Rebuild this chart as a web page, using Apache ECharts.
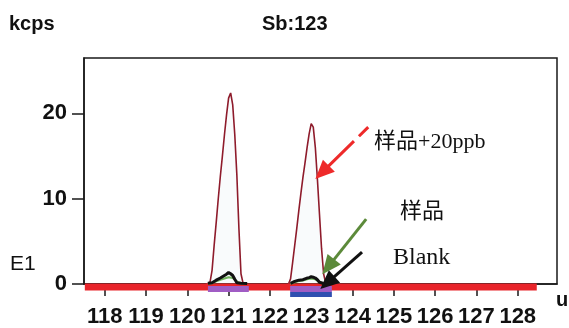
<!DOCTYPE html>
<html>
<head>
<meta charset="utf-8">
<script src="https://cdn.jsdelivr.net/npm/echarts@6/dist/echarts.min.js"></script>
<style>
  html, body { margin: 0; padding: 0; background: #fff; }
  #chart { width: 569px; height: 328px; }
</style>
</head>
<body>
<div id="chart"></div>
<script>
// Mass axis (u) and tick labels
const massTicks = [118, 119, 120, 121, 122, 123, 124, 125, 126, 127, 128];
const countTicks = [0, 10, 20];

// Spiked sample (样品+20ppb): mass points and intensity (kcps); null splits the two peaks
const spikedMass = [120.45, 120.5, 120.55, 120.6, 120.65, 120.7, 120.75, 120.8, 120.85, 120.9, 120.95,
  121.0, 121.05, 121.1, 121.15, 121.2, 121.25, 121.3, 121.35, 121.4, 121.9,
  122.45, 122.5, 122.55, 122.6, 122.65, 122.7, 122.75, 122.8, 122.85, 122.9, 122.95,
  123.0, 123.05, 123.1, 123.15, 123.2, 123.25, 123.3, 123.35, 123.4];
const spikedKcps = [0, 0.05, 0.2, 1.6, 4.5, 7.2, 10.0, 12.6, 15.0, 17.5, 19.8,
  21.8, 22.4, 21.0, 17.5, 12.8, 6.5, 1.2, 0.1, 0, null,
  0, 0.6, 2.5, 4.5, 6.5, 8.6, 10.6, 12.5, 14.2, 16.0, 17.6,
  18.8, 18.4, 16.0, 12.3, 8.2, 4.2, 1.2, 0.1, 0];

// Sample (样品)
const sampleMass = [120.5, 120.6, 120.7, 120.8, 120.9, 121.0, 121.1, 121.2, 121.3, 121.4, 121.9,
  122.5, 122.6, 122.7, 122.8, 122.9, 123.0, 123.1, 123.2, 123.3];
const sampleKcps = [0.02, 0.1, 0.3, 0.5, 0.65, 0.8, 0.7, 0.3, 0.05, 0.02, null,
  0.02, 0.2, 0.35, 0.4, 0.55, 0.65, 0.55, 0.2, 0.05];

// Blank
const blankMass = [120.5, 120.6, 120.7, 120.8, 120.85, 120.9, 120.95, 121.0, 121.05,
  121.1, 121.15, 121.2, 121.3, 121.45, 121.9, 122.5, 122.6, 122.7, 122.8, 122.9, 122.95,
  123.0, 123.05, 123.1, 123.15, 123.2, 123.3];
const blankKcps = [0.08, 0.15, 0.45, 0.7, 0.85, 1.0, 1.15, 1.35, 1.2,
  1.0, 0.55, 0.15, 0.08, 0.05, null, 0.08, 0.3, 0.45, 0.5, 0.7, 0.75,
  0.85, 0.8, 0.7, 0.5, 0.2, 0.06];

// Scan range and integration windows (u)
const scanRange = [117.52, 128.46];
const peakWindows = [[120.5, 121.49], [122.49, 123.5]];
const blankWindows = [[122.49, 123.5]];

// Annotation arrows: [fromMass, fromKcps, toMass, toKcps]
const arrowSpiked = [124.38, 18.4, 123.1, 12.3];
const arrowSample = [124.33, 7.6, 123.27, 1.15];
const arrowBlank = [124.23, 3.75, 123.22, -0.6];

const pairs = (xs, ys) => xs.map((x, i) => [x, ys[i]]);

// band kinds: 0 = scan range, 1 = peak window, 2 = blank window
const bandData = [[scanRange[0], scanRange[1], 0]]
  .concat(peakWindows.map(w => [w[0], w[1], 1]))
  .concat(blankWindows.map(w => [w[0], w[1], 2]));
const bandStyle = [
  { top: -0.5, h: 7, color: '#e8242a' },
  { top: 2, h: 6, color: '#a05cc4' },
  { top: 8, h: 5, color: '#2f4fb0' }
];

const chart = echarts.init(document.getElementById('chart'), null, { renderer: 'canvas' });

const tickFont = '"Liberation Sans", Arial, sans-serif';

const textGraphics = [
  { type: 'text', left: 9, top: 14, style: { text: 'kcps', fill: '#111', font: 'bold 20px "Liberation Sans", Arial, sans-serif' } },
  { type: 'text', left: 262, top: 14, style: { text: 'Sb:123', fill: '#111', font: 'bold 20px "Liberation Sans", Arial, sans-serif' } },
  { type: 'text', left: 10, top: 254, style: { text: 'E1', fill: '#111', font: '21px "Liberation Sans", Arial, sans-serif' } },
  { type: 'text', left: 556, top: 290, style: { text: 'u', fill: '#111', font: 'bold 20px "Liberation Sans", Arial, sans-serif' } },
  { type: 'text', left: 374, top: 131, z: 20, style: { text: '样品+20ppb', fill: '#111', font: '22px "Liberation Serif", "Noto Sans CJK SC", serif' } },
  { type: 'text', left: 400, top: 201, z: 20, style: { text: '样品', fill: '#111', font: '22px "Liberation Serif", "Noto Sans CJK SC", serif' } },
  { type: 'text', left: 393, top: 246, z: 20, style: { text: 'Blank', fill: '#111', font: '24px "Liberation Serif", "Noto Sans CJK SC", serif' } }
];

chart.setOption({
  animation: false,
  backgroundColor: '#ffffff',
  grid: {
    left: 84, right: 12, top: 58, bottom: 43,
    show: true, borderColor: '#1a1a1a', borderWidth: 1.5, backgroundColor: 'transparent'
  },
  xAxis: {
    type: 'value', min: 117.5, max: 128.95,
    axisLine: { show: true, lineStyle: { color: '#1a1a1a', width: 1.5 } },
    axisTick: { show: true, length: 12, customValues: massTicks, lineStyle: { color: '#1a1a1a', width: 1.5 } },
    axisLabel: {
      customValues: massTicks, margin: 22, color: '#111', showMinLabel: true, showMaxLabel: true,
      fontFamily: tickFont, fontWeight: 'bold', fontSize: 22
    },
    splitLine: { show: false }
  },
  yAxis: {
    type: 'value', min: 0, max: 26.5,
    axisLine: { show: true, lineStyle: { color: '#1a1a1a', width: 1.5 } },
    axisTick: { show: true, length: 12, customValues: countTicks, lineStyle: { color: '#1a1a1a', width: 1.5 } },
    axisLabel: {
      customValues: countTicks, margin: 17, color: '#111',
      fontFamily: tickFont, fontWeight: 'bold', fontSize: 22
    },
    splitLine: { show: false }
  },
  graphic: textGraphics,
  series: [
    {
      name: '样品+20ppb', type: 'line', z: 2, symbol: 'none', connectNulls: false,
      data: pairs(spikedMass, spikedKcps),
      lineStyle: { color: '#8e1b2b', width: 1.6 },
      areaStyle: { color: 'rgba(205,225,235,0.18)' }
    },
    {
      name: 'bands', type: 'custom', z: 3, clip: false,
      coordinateSystem: 'cartesian2d',
      encode: { x: [0, 1] },
      data: bandData,
      renderItem: function (params, api) {
        const s = bandStyle[api.value(2)];
        const p0 = api.coord([api.value(0), 0]);
        const p1 = api.coord([api.value(1), 0]);
        return {
          type: 'rect',
          shape: { x: p0[0], y: p0[1] + s.top, width: p1[0] - p0[0], height: s.h },
          style: { fill: s.color }
        };
      }
    },
    {
      name: '样品', type: 'line', z: 4, symbol: 'none', connectNulls: false,
      data: pairs(sampleMass, sampleKcps),
      lineStyle: { color: '#72b35e', width: 2 }
    },
    {
      name: 'Blank', type: 'line', z: 5, symbol: 'none', connectNulls: false,
      data: pairs(blankMass, blankKcps),
      lineStyle: { color: '#111111', width: 3 }
    }
  ]
});

// Arrows are placed in data space and converted to pixels for drawing
function arrowGraphics(a, color, dash) {
  const p0 = chart.convertToPixel({ gridIndex: 0 }, [a[0], a[1]]);
  const p1 = chart.convertToPixel({ gridIndex: 0 }, [a[2], a[3]]);
  const dx = p1[0] - p0[0], dy = p1[1] - p0[1];
  const len = Math.sqrt(dx * dx + dy * dy);
  const ux = dx / len, uy = dy / len;
  const headLen = 19, headHalf = 8.5;
  const bx = p1[0] - ux * headLen, by = p1[1] - uy * headLen;
  return [
    {
      type: 'line', z: 30,
      shape: { x1: p0[0], y1: p0[1], x2: bx + ux * 2, y2: by + uy * 2 },
      style: { stroke: color, lineWidth: 3, lineDash: dash || null }
    },
    {
      type: 'polygon', z: 30,
      shape: { points: [[p1[0], p1[1]], [bx - uy * headHalf, by + ux * headHalf], [bx + uy * headHalf, by - ux * headHalf]] },
      style: { fill: color }
    }
  ];
}

chart.setOption({
  graphic: textGraphics
    .concat(arrowGraphics(arrowSpiked, '#ee2a2a', [13, 7, 600]))
    .concat(arrowGraphics(arrowSample, '#5c8a3a'))
    .concat(arrowGraphics(arrowBlank, '#111111'))
});
</script>
</body>
</html>
